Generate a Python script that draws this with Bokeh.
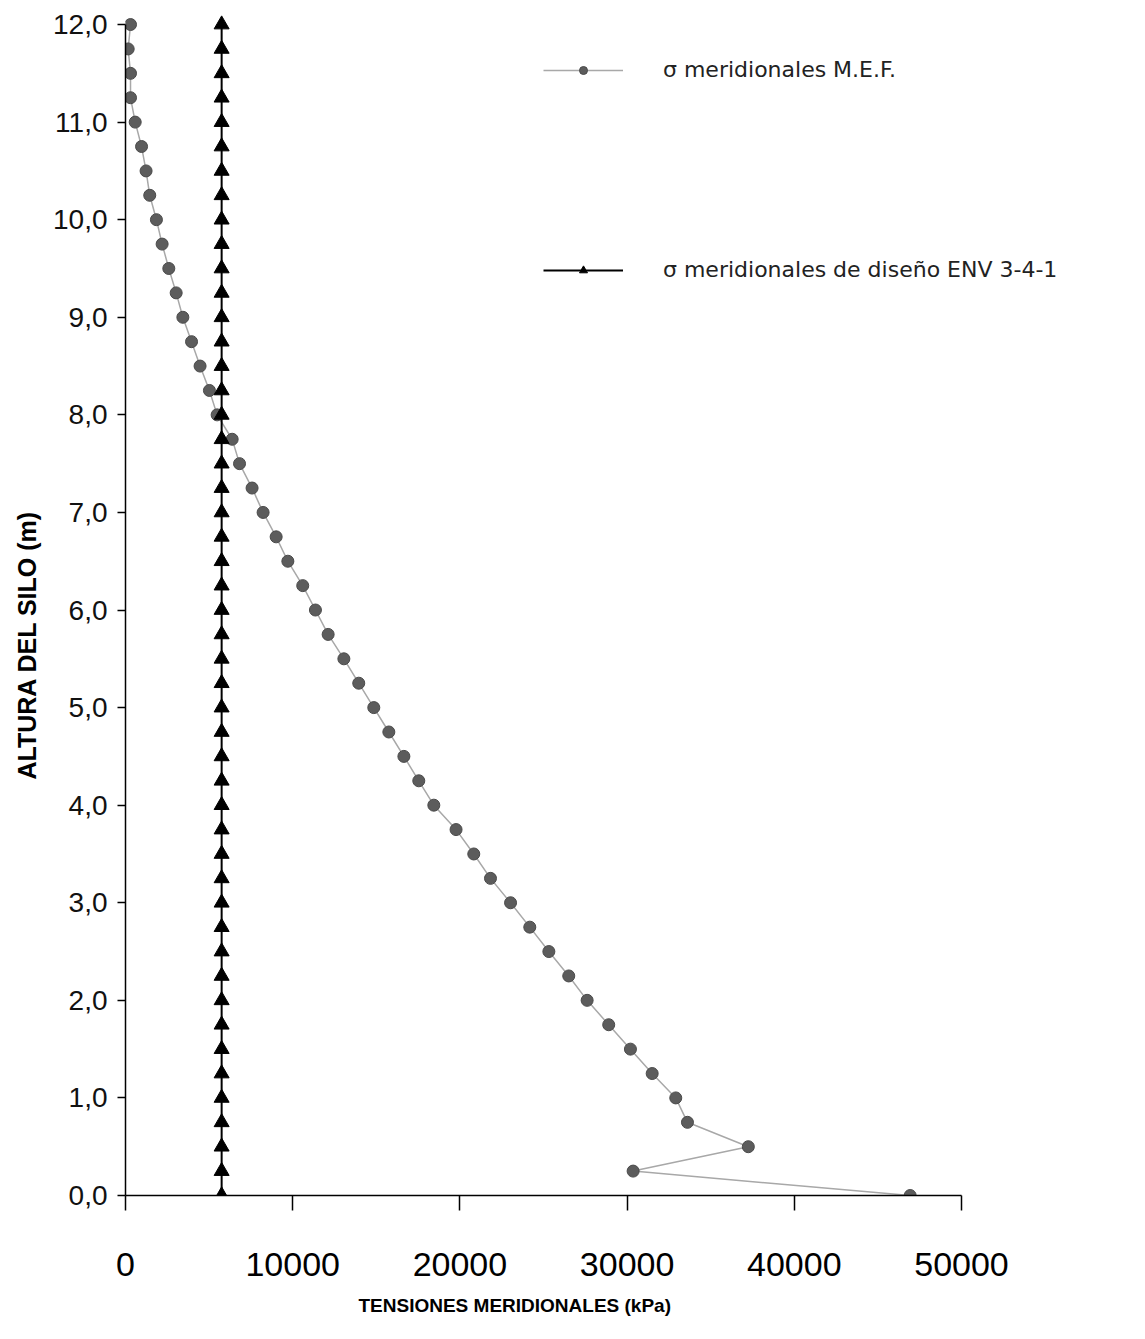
from bokeh.plotting import figure
from bokeh.models import (Range1d, FixedTicker, Legend, LegendItem, ColumnDataSource, Title)
from bokeh.embed import file_html
from bokeh.resources import INLINE

# ---- data ----
heights = [0.0, 0.25, 0.5, 0.75, 1.0, 1.25, 1.5, 1.75, 2.0, 2.25, 2.5, 2.75,
           3.0, 3.25, 3.5, 3.75, 4.0, 4.25, 4.5, 4.75, 5.0, 5.25, 5.5, 5.75,
           6.0, 6.25, 6.5, 6.75, 7.0, 7.25, 7.5, 7.75, 8.0, 8.25, 8.5, 8.75,
           9.0, 9.25, 9.5, 9.75, 10.0, 10.25, 10.5, 10.75, 11.0, 11.25, 11.5,
           11.75, 12.0]

sigma_mef = [46930, 30360, 37250, 33610, 32910, 31500, 30200, 28900, 27610,
             26510, 25320, 24180, 23030, 21830, 20830, 19770, 18440, 17540,
             16650, 15750, 14850, 13950, 13060, 12120, 11360, 10600, 9710,
             9010, 8230, 7570, 6820, 6380, 5480, 5020, 4460, 3950, 3430, 3030,
             2590, 2190, 1850, 1450, 1230, 960, 580, 300, 300, 160, 300]

sigma_env = [5750, 5750, 5750, 5750, 5750, 5750, 5750, 5750, 5750, 5750,
             5750, 5750, 5750, 5750, 5750, 5750, 5750, 5750, 5750, 5750,
             5750, 5750, 5750, 5750, 5750, 5750, 5750, 5750, 5750, 5750,
             5750, 5750, 5750, 5750, 5750, 5750, 5750, 5750, 5750, 5750,
             5750, 5750, 5750, 5750, 5750, 5750, 5750, 5750, 5750]

x_ticks = [0, 10000, 20000, 30000, 40000, 50000]
x_tick_labels = ["0", "10000", "20000", "30000", "40000", "50000"]
y_ticks = [0, 1, 2, 3, 4, 5, 6, 7, 8, 9, 10, 11, 12]
y_tick_labels = ["0,0", "1,0", "2,0", "3,0", "4,0", "5,0", "6,0", "7,0",
                 "8,0", "9,0", "10,0", "11,0", "12,0"]

label_mef = "σ meridionales M.E.F."
label_env = "σ meridionales de diseño ENV 3-4-1"
x_title = "TENSIONES MERIDIONALES (kPa)"
y_title = "ALTURA DEL SILO (m)"

# ---- layout ----
AXIS_W = 836            # pixels from 0 to 50000
FRAME_W = 1014          # frame extends right so the legend is not clipped
FRAME_H = 1191
PX_PER_M = 97.58
x_end = 50000 * FRAME_W / AXIS_W
y_top = 12 + (FRAME_H - 12 * PX_PER_M) / PX_PER_M

p = figure(frame_width=FRAME_W, frame_height=FRAME_H,
           x_range=Range1d(0, x_end), y_range=Range1d(0, y_top),
           output_backend="svg", toolbar_location=None,
           min_border_left=121, min_border_right=2,
           min_border_top=4, min_border_bottom=131,
           background_fill_color="white", border_fill_color="white")
p.outline_line_color = None
p.xgrid.visible = False
p.ygrid.visible = False

src_mef = ColumnDataSource(dict(x=sigma_mef, y=heights))
src_env = ColumnDataSource(dict(x=sigma_env, y=heights))

l1 = p.line("x", "y", source=src_mef, line_color="#a8a8a8", line_width=1.5)
s1 = p.scatter("x", "y", source=src_mef, marker="circle", size=12,
               fill_color="#5c5c5c", line_color="#4a4a4a", line_width=1)
l2 = p.line("x", "y", source=src_env, line_color="black", line_width=2)
s2 = p.scatter("x", "y", source=src_env, marker="triangle", size=15,
               fill_color="black", line_color="black", line_width=1)

# axes
xa = p.xaxis[0]
xa.ticker = FixedTicker(ticks=x_ticks)
xa.major_label_overrides = {t: l for t, l in zip(x_ticks, x_tick_labels)}
xa.bounds = (0, 50000)
xa.axis_line_width = 1.5
xa.axis_line_color = "black"
xa.major_tick_line_width = 1.5
xa.major_tick_out = 15
xa.major_tick_in = 0
xa.minor_tick_line_color = None
xa.major_label_text_font = "Liberation Sans"
xa.major_label_text_font_size = "34px"
xa.major_label_text_color = "black"
xa.major_label_standoff = 42

ya = p.yaxis[0]
ya.ticker = FixedTicker(ticks=y_ticks)
ya.major_label_overrides = {t: l for t, l in zip(y_ticks, y_tick_labels)}
ya.bounds = (0, 12)
ya.axis_line_width = 1.5
ya.axis_line_color = "black"
ya.major_tick_line_width = 1.5
ya.major_tick_out = 8
ya.major_tick_in = 0
ya.minor_tick_line_color = None
ya.major_label_text_font = "Liberation Sans"
ya.major_label_text_font_size = "28px"
ya.major_label_text_color = "#111111"
ya.major_label_standoff = 10

# axis titles as side-panel titles so they can be aligned like the reference
xt = Title(text=x_title, align="left", offset=233, standoff=28,
           text_font="Liberation Sans", text_font_style="bold",
           text_font_size="19px", text_color="black")
p.add_layout(xt, "below")
yt = Title(text=y_title, align="left", offset=416, standoff=20,
           text_font="Liberation Sans", text_font_style="bold",
           text_font_size="25px", text_color="black")
p.add_layout(yt, "left")

legend = Legend(items=[LegendItem(label=label_mef, renderers=[l1, s1]),
                       LegendItem(label=label_env, renderers=[l2, s2])],
                location=(418, 913), orientation="vertical",
                glyph_width=80, glyph_height=20, label_height=20,
                label_standoff=40, spacing=175, padding=0, margin=0,
                border_line_alpha=0, background_fill_alpha=0,
                label_text_font="DejaVu Sans", label_text_font_size="22px",
                label_text_color="#222222")
p.add_layout(legend)

open("out.html", "w").write(file_html(p, INLINE))
